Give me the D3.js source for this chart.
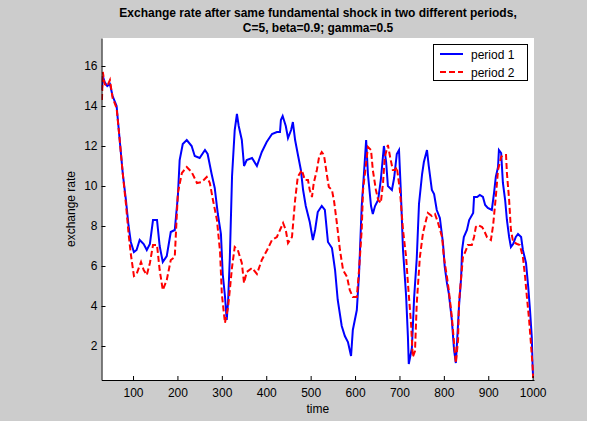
<!DOCTYPE html>
<html><head><meta charset="utf-8">
<script src="https://cdn.jsdelivr.net/npm/d3@7"></script>
<style>
html,body{margin:0;padding:0;background:#fff;}
svg{display:block;}
text{font-family:"Liberation Sans",Arial,sans-serif;fill:#000;}
</style></head>
<body>
<svg id="chart" width="595" height="421"></svg>
<script>
// ---- data ----
const titleLines = ["Exchange rate after same fundamental shock in two different periods,", "C=5, beta=0.9; gamma=0.5"];
const xLabel = "time";
const yLabel = "exchange rate";
const seriesNames = ["period 1", "period 2"];
const xTicks = [100,200,300,400,500,600,700,800,900,1000];
const yTicks = [2,4,6,8,10,12,14,16];

const period1 = [
[30,14.8],[32,15.5],[36,15.2],[42,15.0],[48,15.1],[54,14.5],[63,14.0],[70,12.3],[77,10.6],[84,9.3],[90,8.0],[95,7.2],
[102,6.7],[108,6.8],[115,7.3],[124,7.1],[131,6.8],[138,7.1],[145,8.3],[154,8.3],[160,7.0],[167,6.2],[176,6.5],[185,7.7],
[194,7.8],[201,9.5],[205,11.3],[212,12.1],[221,12.3],[232,12.0],[239,11.5],[250,11.4],[262,11.8],[268,11.6],[277,10.6],
[284,9.9],[291,8.6],[298,7.6],[302,5.6],[307,4.5],[311,3.3],[314,4.2],[318,6.4],[323,10.5],[329,12.8],[334,13.6],[338,13.0],
[345,12.3],[350,11.0],[356,11.3],[368,11.4],[379,11.0],[390,11.7],[401,12.2],[413,12.6],[424,12.7],[431,12.7],[433,13.3],
[437,13.5],[444,13.0],[449,12.4],[456,12.8],[460,13.2],[465,12.3],[471,11.6],[478,10.8],[483,9.8],[489,9.0],[498,8.2],
[505,7.3],[510,7.8],[516,8.7],[525,9.0],[532,8.8],[539,7.2],[548,6.9],[555,5.8],[561,4.3],[570,3.0],[577,2.5],[584,2.2],
[591,1.5],[595,2.8],[604,3.8],[609,5.6],[615,9.0],[620,10.6],[625,12.3],[629,10.6],[636,9.0],[640,8.6],[645,9.0],[652,9.3],
[658,10.3],[665,12.0],[670,11.2],[674,10.0],[683,9.8],[688,10.4],[694,11.6],[699,11.8],[703,9.8],[708,6.8],[715,4.5],
[719,2.5],[721,1.1],[728,1.9],[733,4.4],[739,6.4],[744,9.1],[751,10.6],[755,11.2],[762,11.8],[766,11.0],[773,9.8],
[778,9.6],[784,8.8],[791,8.4],[798,7.15],[802,5.95],[807,5.15],[811,4.65],[818,3.3],[823,1.8],[827,1.15],[830,2.3],
[834,3.95],[839,5.45],[841,6.8],[845,7.45],[852,7.8],[857,8.3],[866,8.65],[868,9.45],[875,9.45],[881,9.55],[888,9.45],
[893,9.05],[899,8.9],[908,8.8],[913,9.65],[917,10.45],[922,10.95],[924,11.8],[929,11.65],[933,10.15],[938,9.3],[942,8.3],
[947,7.45],[951,6.95],[956,7.1],[962,7.45],[967,7.6],[974,7.45],[978,6.8],[985,6.15],[990,4.95],[994,3.8],[998,2.45],
[1000,0.95],[1001,0.4]
];

const period2 = [
[30,14.3],[32,15.7],[36,15.1],[42,15.0],[48,15.3],[54,14.4],[63,13.9],[70,12.3],[77,10.6],[84,9.1],[90,7.6],[95,6.6],
[102,5.5],[108,5.6],[118,6.2],[124,5.8],[131,5.55],[138,6.15],[145,7.05],[154,7.05],[160,5.8],[167,4.8],[176,5.3],[185,6.3],
[194,6.45],[201,9.65],[210,10.65],[221,10.95],[232,10.7],[244,10.15],[255,10.2],[266,10.45],[273,10.15],[280,9.3],[289,8.3],
[296,6.7],[300,4.6],[307,3.15],[314,3.95],[318,4.8],[323,5.95],[329,6.95],[336,6.8],[345,6.15],[350,5.15],[356,5.7],
[368,5.9],[379,5.6],[390,6.3],[402,6.8],[413,7.3],[424,7.45],[431,7.8],[438,8.15],[444,7.8],[449,7.15],[458,7.45],
[465,9.3],[471,10.45],[480,10.8],[487,10.3],[494,10.3],[498,9.8],[503,9.45],[507,10.15],[514,10.8],[519,11.45],[525,11.7],
[530,11.55],[537,10.5],[541,9.95],[548,9.8],[553,9.2],[559,8.15],[566,6.8],[573,5.8],[582,5.45],[588,4.8],[595,4.45],
[604,4.45],[609,5.8],[615,7.8],[618,9.8],[624,10.95],[629,11.95],[636,11.8],[640,10.8],[647,9.8],[652,9.3],[658,9.15],
[663,10.15],[667,11.45],[674,12.05],[679,11.45],[685,10.8],[690,10.8],[694,10.95],[701,9.8],[708,7.8],[715,6.45],[719,5.15],
[726,3.15],[730,1.45],[735,1.75],[739,4.15],[746,6.45],[753,7.65],[760,8.3],[764,8.65],[773,8.5],[780,8.6],[787,8.15],
[796,7.45],[800,6.45],[807,5.45],[811,4.8],[818,3.45],[823,2.15],[827,1.15],[832,2.3],[834,4.15],[839,5.45],[843,6.45],
[850,6.8],[854,7.05],[863,7.05],[868,7.45],[872,7.95],[877,8.05],[886,7.95],[890,7.8],[897,7.45],[906,7.3],[911,8.05],
[917,9.45],[922,10.8],[929,11.45],[933,11.55],[940,11.55],[942,10.65],[947,9.3],[951,7.8],[956,7.2],[965,7.1],[971,7.05],
[978,6.45],[983,5.45],[987,4.45],[992,3.3],[996,2.15],[1000,0.95],[1001,0.4]
];

const seriesColors = ["#0000ff", "#ff0000"];

// ---- layout ----
const svg = d3.select("#chart");
const W = 595, H = 421;
const plot = {left: 101.5, right: 534, top: 38, bottom: 380};

svg.append("rect").attr("x",0).attr("y",0).attr("width",587).attr("height",H).attr("fill","#cccccc");
svg.append("rect").attr("x",plot.left).attr("y",plot.top).attr("width",plot.right-plot.left).attr("height",plot.bottom-plot.top).attr("fill","#ffffff");

const x = d3.scaleLinear().domain([29,1003]).range([plot.left, plot.right]);
const y = d3.scaleLinear().domain([0.3,17.4]).range([plot.bottom, plot.top]);

svg.append("clipPath").attr("id","clip").append("rect")
  .attr("x",plot.left).attr("y",plot.top).attr("width",plot.right-plot.left).attr("height",plot.bottom-plot.top);

const line = d3.line().x(d=>x(d[0])).y(d=>y(d[1]));
const g = svg.append("g").attr("clip-path","url(#clip)");
g.append("path").datum(period1).attr("d",line).attr("fill","none")
  .attr("stroke",seriesColors[0]).attr("stroke-width",2);
g.append("path").datum(period2).attr("d",line).attr("fill","none")
  .attr("stroke",seriesColors[1]).attr("stroke-width",2).attr("stroke-dasharray","6,3");

// axes
const xAxis = d3.axisBottom(x).tickValues(xTicks).tickFormat(d3.format("d")).tickSizeInner(-4).tickSizeOuter(0).tickPadding(8);
const gx = svg.append("g").attr("transform",`translate(0,${plot.bottom})`).call(xAxis);
const yAxis = d3.axisLeft(y).tickValues(yTicks).tickFormat(d3.format("d")).tickSizeInner(-4).tickSizeOuter(0).tickPadding(4);
const gy = svg.append("g").attr("transform",`translate(${plot.left},0)`).call(yAxis);
[gx,gy].forEach(a=>{
  a.selectAll("text").attr("font-size",12).attr("font-family","Liberation Sans, Arial, sans-serif").attr("fill","#000");
  a.select(".domain").attr("stroke","#000").attr("stroke-width",1);
  a.selectAll(".tick line").attr("stroke","#000");
});

// labels
svg.append("text").attr("x",(plot.left+plot.right)/2).attr("y",413).attr("text-anchor","middle").attr("font-size",12).text(xLabel);
svg.append("text").attr("transform",`translate(75,${(plot.top+plot.bottom)/2}) rotate(-90)`).attr("text-anchor","middle").attr("font-size",12).text(yLabel);
titleLines.forEach((t,i)=>{
  svg.append("text").attr("x",318).attr("y",17+i*15).attr("text-anchor","middle")
    .attr("font-size",12).attr("font-weight","bold").text(t);
});

// legend
const lg = svg.append("g");
lg.append("rect").attr("x",433.5).attr("y",44.5).attr("width",94).attr("height",36).attr("fill","#fff").attr("stroke","#000").attr("stroke-width",1);
seriesNames.forEach((n,i)=>{
  const yy = 54 + i*18;
  lg.append("line").attr("x1",440).attr("x2",463).attr("y1",yy).attr("y2",yy)
    .attr("stroke",seriesColors[i]).attr("stroke-width",2).attr("stroke-dasharray", i===1 ? "6,3" : null);
  lg.append("text").attr("x",471).attr("y",yy+4.5).attr("font-size",12).text(n);
});
</script>
</body></html>
